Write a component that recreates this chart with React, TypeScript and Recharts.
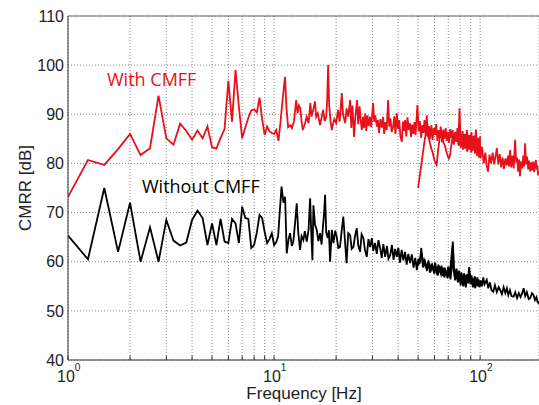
import { CartesianGrid, Customized, Line, LineChart, ReferenceLine, XAxis, YAxis } from 'recharts';

// [frequency Hz, CMRR dB]
const withCmffSweep1: [number, number][] = [
  [1, 73.2], [1.25, 80.7], [1.5, 79.7], [1.75, 82.9], [2, 86], [2.25, 81.7], [2.5, 83.1], [2.75, 93.8],
  [3, 85.1], [3.25, 83.8], [3.5, 88.1], [3.75, 86.6], [4, 84.8], [4.25, 86.7], [4.5, 85.1], [4.75, 87.5],
  [5, 83.3], [5.25, 83], [5.5, 85.2], [5.75, 87], [6, 96.8], [6.25, 88.5], [6.5, 99], [6.75, 91.5],
  [7, 85.1], [7.25, 87.3], [7.5, 89.3], [7.75, 90.8], [8, 91], [8.25, 90.4], [8.5, 93.4], [8.75, 89],
  [9, 85.8], [9.25, 87.5], [9.5, 86.5], [9.75, 86.2], [10, 86],
  [10.25, 86.8], [10.5, 84.6], [10.75, 88.5], [11, 93], [11.3, 97.6], [11.5, 91], [11.7, 87.4], [12, 87.8],
  [12.2, 87.2], [12.5, 88.6], [12.8, 92.9], [13, 90.2], [13.2, 91.8], [13.4, 91.3], [13.6, 88.5], [13.8, 86.8],
  [14.1, 88], [14.4, 89.5], [14.7, 88.2], [15, 92.3], [15.2, 89.5], [15.5, 91], [15.8, 92.6], [16, 89.5],
  [16.3, 90.2], [16.7, 87.8], [17, 89.3], [17.3, 90.9], [17.6, 88.6], [17.9, 89.5], [18.1, 93], [18.3, 100],
  [18.5, 92], [18.8, 88.5], [19.06, 86.8], [19.3, 88], [19.6, 89], [20, 88.2], [20.45, 90.9], [20.8, 88.5],
  [21, 90.5], [21.31, 94.3], [21.6, 90], [22.12, 88.2], [22.5, 91.2], [22.9, 89.5], [23.39, 92.9], [23.7, 87.2],
  [24, 91.8], [24.45, 85.4], [24.8, 89.5], [25.29, 92.9], [25.6, 88], [26, 91.6], [26.3, 88.9], [26.65, 86.8],
  [27, 89.5], [27.3, 87.2], [27.7, 90.2], [28, 86.6], [28.4, 89.8], [28.8, 87.6], [29.24, 89.5], [29.6, 87.4],
  [30.24, 92.3], [30.6, 88.5], [31, 89.8], [31.51, 87.5], [31.9, 88.8], [32.3, 86.2], [32.8, 89], [33.3, 87.3],
  [33.82, 89.5], [34.2, 86], [34.7, 88.4], [35.2, 86.8], [35.76, 92.9], [36.2, 87.5], [36.7, 89.2], [37.2, 86.4],
  [37.82, 87.5], [38.3, 89.6], [38.8, 86], [39.41, 90.2], [39.9, 87], [40.5, 88.8], [41, 85.6], [41.68, 84.4],
  [42.2, 88.5], [42.7, 86.6], [43.25, 88.8], [43.8, 85.5], [44.4, 89.4], [45, 86.8], [45.6, 88.2], [46.2, 85.4],
  [46.8, 87.9], [47.4, 86], [48, 88.4], [48.6, 85.8], [49.6, 91.9], [50.3, 86.5], [51, 88.6], [51.7, 85.2],
  [52.4, 87.8], [53, 86.2], [53.7, 88.8], [54.4, 85.6], [55.1, 89.8], [55.8, 85.4], [56.5, 87.6], [57.2, 85],
  [58, 87.8], [58.8, 84.8], [59.6, 87.2], [60.4, 85.8], [61.2, 88], [62, 84.6], [62.8, 86.8], [63.6, 85.2],
  [64.4, 87.5], [65.3, 84.3], [66.2, 86.9], [67.1, 85], [68, 87.2], [68.9, 84.6], [69.8, 86.4], [70.7, 84.2],
  [71.6, 87], [72.6, 85.2], [73.6, 86.8], [74.6, 83.8], [75.6, 86.4], [76.6, 84.5], [77.6, 87.2], [78.5, 85],
  [79.4, 91.2], [80.2, 85.6], [81.2, 84], [82.2, 86.6], [83.2, 83.6], [84.2, 86], [85.2, 84.6], [86.3, 86.8],
  [87.4, 83.4], [88.5, 85.8], [89.6, 84], [90.7, 86.4], [91.8, 83.2], [93, 85.6], [94.2, 84], [95.4, 86.9],
  [96.6, 83], [97.8, 85.2], [99, 82.6], [100, 85.5],
];

const withCmffSweep2: [number, number][] = [
  [50, 75], [51, 77.6], [52, 80.2], [53, 82.8], [54, 85.2], [55, 86.4], [56, 85.6], [57, 84.2], [58, 83],
  [59, 82], [60, 80.6], [61.5, 79.7], [62.5, 82.6], [63.5, 85], [64.5, 86.2], [65.5, 85.4], [66.5, 84.2],
  [67.5, 83.6], [68.5, 82.4], [69.5, 81.6], [70.5, 81], [71.5, 81.8], [72.5, 83.8], [73.5, 85.4], [74.5, 84],
  [75.5, 86], [76.5, 84.4], [77.5, 85.8], [78.5, 83.6], [79.5, 85.2], [80.5, 83.2], [81.5, 85.6], [82.5, 82.8],
  [83.5, 85], [84.5, 83], [85.5, 85.2], [86.5, 82.4], [87.5, 84.6], [88.5, 82.8], [89.5, 85.4], [90.5, 82.2],
  [91.5, 84.4], [92.5, 82.6], [93.5, 85.2], [94.5, 82], [95.5, 84.2], [96.5, 81.6], [97.5, 84.6], [98.5, 81.2],
  [99.5, 84.8], [100.5, 81], [102, 83.4], [104, 80], [106, 82.2], [107.5, 79.6], [109.3, 78.3], [111, 81.8],
  [113, 80], [115, 82.2], [117, 79.8], [118.8, 81.5], [120.5, 83.1], [122.5, 79.8], [124.5, 81.9], [126.5, 79.2],
  [128.5, 81.2], [130.5, 78.9], [132.5, 81], [134.5, 79.6], [136.5, 81.6], [138, 79.4], [139.8, 82.7],
  [141.5, 79.2], [143.5, 81.6], [145.5, 79], [147.8, 84.8], [149.5, 80.2], [151.2, 81.2], [153, 78.3],
  [154.6, 80.8], [156, 77.4], [158, 80.4], [160, 79], [161.8, 81.6], [163.5, 79.4], [165.3, 84.1], [167, 79.8],
  [169, 81.4], [171, 78.8], [173, 80.6], [175, 78.4], [177, 80.2], [179, 78.6], [181, 80.4], [183, 78.2],
  [184.5, 79.6], [186.4, 80.7], [188, 78.8], [189.5, 79.6], [191, 77.6], [192.5, 78.4], [193, 78],
];

const withoutCmffSweep1: [number, number][] = [
  [1, 65.3], [1.25, 60.5], [1.5, 75], [1.75, 62], [2, 72], [2.25, 60], [2.5, 67], [2.75, 60], [3, 68.5],
  [3.25, 64.3], [3.5, 63.3], [3.75, 63.9], [4, 68.5], [4.25, 70.4], [4.5, 68.9], [4.75, 63.4], [5, 67.8],
  [5.25, 63.4], [5.5, 68.7], [5.75, 64.1], [6, 63.8], [6.25, 68.7], [6.5, 67.8], [6.75, 63.8], [7, 71.2],
  [7.25, 68.9], [7.5, 68.7], [7.75, 62.8], [8, 63.4], [8.25, 66], [8.5, 69.5], [8.75, 68.9], [9, 66.1],
  [9.25, 63.8], [9.5, 64.6], [9.75, 65.8], [10, 63.4],
  [10.25, 64], [10.46, 65.1], [10.65, 70], [10.87, 75.3], [11.1, 72], [11.31, 73.2], [11.52, 61.7],
  [11.75, 64.5], [11.95, 65.8], [12.2, 63.2], [12.4, 64.1], [12.65, 68], [12.88, 71.9], [13.1, 66],
  [13.37, 62.4], [13.6, 65.2], [13.87, 64.4], [14.1, 66.2], [14.41, 64.1], [14.7, 66.5], [14.96, 72.9],
  [15.15, 66], [15.35, 60.3], [15.52, 71.5], [15.8, 67.5], [16.1, 66.5], [16.4, 64.2], [16.73, 65.8], [17, 63.5],
  [17.3, 67.6], [17.5, 70], [17.68, 73.6], [17.9, 66], [18.2, 64.8], [18.45, 66.4], [18.7, 60], [19.06, 66.5],
  [19.4, 63.8], [19.8, 66.3], [20.13, 65.1], [20.5, 62.8], [20.88, 63], [21.2, 65.6], [21.67, 69.2], [22.1, 64],
  [22.48, 59.7], [22.9, 65.8], [23.39, 65.4], [23.8, 62.6], [24.27, 63], [24.7, 65.2], [25.19, 66.8],
  [25.6, 63.4], [26.14, 62], [26.6, 65.6], [27.13, 64.8], [27.6, 62.4], [28.17, 61], [28.7, 64.6], [29.24, 63],
  [29.8, 64.8], [30.3, 62.2], [30.9, 63.8], [31.5, 61.6], [32.1, 64.4], [32.7, 62.8], [33.3, 60.8], [33.9, 63.6],
  [34.6, 61], [35.3, 63.2], [35.9, 60.6], [36.6, 61.3], [37.3, 63.4], [38, 60.4], [38.7, 62.6], [39.4, 61],
  [40.1, 62.8], [40.8, 59.8], [41.6, 62.4], [42.4, 60.3], [43.2, 62], [44, 59.4], [44.8, 61.6], [45.7, 59.7],
  [46.6, 61.5], [47.5, 58.8], [48.4, 60.8], [49.3, 58.3], [50.1, 60.6], [50.9, 59.6], [51.8, 62.8], [52.7, 59],
  [53.5, 60.4], [54.3, 59.7], [55.2, 58.2], [56.1, 60.2], [57, 57.8], [58, 59.6], [59.4, 58.3], [60.5, 59.8],
  [61.6, 57.4], [62.7, 59.4], [63.8, 58], [64.9, 59.2], [66, 57.1], [67.2, 58.8], [68.8, 57.3], [70, 59],
  [71.2, 57.4], [72.5, 60.8], [73.7, 64.1], [74.6, 59], [75.6, 56.9], [76.8, 58.6], [78, 56.6], [79, 58.2],
  [80, 56.3], [81.2, 57.8], [82.4, 55.9], [83.6, 57.6], [84.8, 56], [86, 57.4], [87.2, 56.4], [88.4, 58.9],
  [89.6, 56], [90.8, 57.2], [92, 55.6], [92.9, 56.3], [94.2, 57], [95.5, 55.2], [96.8, 56.8], [98.2, 55.4],
  [100, 55.6],
];

const withoutCmffSweep2: [number, number][] = [
  [50, 59.2], [51, 60.4], [52, 61.8], [53, 58.8], [54, 60], [55, 58.6], [56.2, 59.8], [57.4, 57.9], [58.6, 59.2],
  [59.8, 57.6], [61, 59], [62.2, 57.2], [63.4, 58.6], [64.6, 57.4], [65.8, 58.8], [67, 56.8], [68.2, 58.2],
  [69.4, 56.6], [70.6, 58], [71.8, 56.4], [73, 59.5], [73.7, 63.2], [74.4, 58.2], [75.6, 56.2], [76.8, 57.6],
  [78, 55.8], [79.2, 57.2], [80.4, 55.2], [81.6, 56.8], [82.8, 55], [84, 56.6], [85.2, 54.8], [86.4, 56.8],
  [87.6, 55.6], [88.6, 58.2], [89.8, 55.4], [91, 56.6], [92.2, 54.8], [93.4, 56.4], [94.6, 54.6], [95.8, 56.2],
  [97, 55], [98.2, 56.4], [99.4, 54.8], [100.6, 56.2], [102, 55], [103.5, 56.8], [105, 55.4], [107.6, 56.3],
  [109.5, 54.6], [111.5, 55.8], [113.5, 54.2], [115.8, 53.9], [118, 55.2], [120.5, 53.8], [123, 54.8],
  [125.2, 54.2], [127.5, 53.4], [130, 54.8], [132.5, 53.6], [134.8, 54.6], [137, 53.2], [139.5, 54.2], [142, 53],
  [145.2, 52.9], [148, 53.8], [151, 52.6], [154, 53.6], [157, 52.8], [160, 53.6], [162.6, 54.6], [165.5, 53],
  [168.5, 53.8], [172, 52.4], [175, 52.6], [178.5, 53.6], [181.6, 53.2], [184.5, 52.2], [187.5, 52.8],
  [190, 51.8], [192, 51.6], [193, 52],
];

const freqTicks = [1, 2, 3, 4, 5, 6, 7, 8, 9, 10, 20, 30, 40, 50, 60, 70, 80, 90, 100];
const decadeLabels: Record<number, string> = { 1: '0', 10: '1', 100: '2' };
const dbTicks = [40, 50, 60, 70, 80, 90, 100, 110];

const toRows = (pts: [number, number][]) => pts.map(([f, db]) => ({ f, db }));

const axisFont = '"Liberation Sans", Arial, sans-serif';
const noteFont = '"Open Sans", "Noto Sans", sans-serif';

function FreqTick({ x, y, payload }: any) {
  const exp = decadeLabels[payload.value];
  if (exp === undefined) return null;
  return (
    <text x={x - 11} y={y + 14} fontSize={16} fontFamily={axisFont} fill="#222">
      <tspan>10</tspan>
      <tspan dy={-11} fontSize={10}>{exp}</tspan>
    </text>
  );
}

function Notes() {
  return (
    <g>
      <text x={107} y={86} fontSize={18} fontFamily={noteFont} fill="#e8101a">With CMFF</text>
      <text x={142} y={193} fontSize={18} fontFamily={noteFont} fill="#000">Without CMFF</text>
      <text x={304} y={399} textAnchor="middle" fontSize={17} fontFamily={axisFont} fill="#222">Frequency [Hz]</text>
      <text x={31} y={188} textAnchor="middle" fontSize={17} fontFamily={axisFont} fill="#222"
        transform="rotate(-90 31 188)">CMRR [dB]</text>
    </g>
  );
}

export default function App() {
  return (
    <div style={{ position: 'absolute', left: 0, top: 0, width: 539, height: 405, background: '#fff' }}>
      <LineChart width={539} height={405} margin={{ top: 16, right: 0, bottom: 0, left: 0 }}>
        <CartesianGrid stroke="#8a8a8a" strokeDasharray="1 2" />
        <XAxis
          type="number"
          dataKey="f"
          scale="log"
          domain={[1, 193]}
          allowDataOverflow
          ticks={freqTicks}
          interval={0}
          tick={<FreqTick />}
          tickLine={false}
          height={45}
          axisLine={{ stroke: '#333' }}
        />
        <YAxis
          type="number"
          domain={[40, 110]}
          ticks={dbTicks}
          interval={0}
          width={68}
          tickLine={false}
          tickSize={4}
          tickMargin={0}
          axisLine={{ stroke: '#333' }}
          tick={{ fontSize: 16, fontFamily: axisFont, fill: '#222' }}
        />
        <ReferenceLine y={110} stroke="#666" />
        {freqTicks.map((f) => (
          <ReferenceLine key={f} segment={[{ x: f, y: 40 }, { x: f, y: 40.9 }]} stroke="#333" />
        ))}
        <Line data={toRows(withCmffSweep1)} dataKey="db" type="linear" stroke="#e8101a" strokeWidth={1.8} dot={false} isAnimationActive={false} />
        <Line data={toRows(withCmffSweep2)} dataKey="db" type="linear" stroke="#e8101a" strokeWidth={1.8} dot={false} isAnimationActive={false} />
        <Line data={toRows(withoutCmffSweep1)} dataKey="db" type="linear" stroke="#000" strokeWidth={1.8} dot={false} isAnimationActive={false} />
        <Line data={toRows(withoutCmffSweep2)} dataKey="db" type="linear" stroke="#000" strokeWidth={1.8} dot={false} isAnimationActive={false} />
        <Customized component={Notes} />
      </LineChart>
    </div>
  );
}
